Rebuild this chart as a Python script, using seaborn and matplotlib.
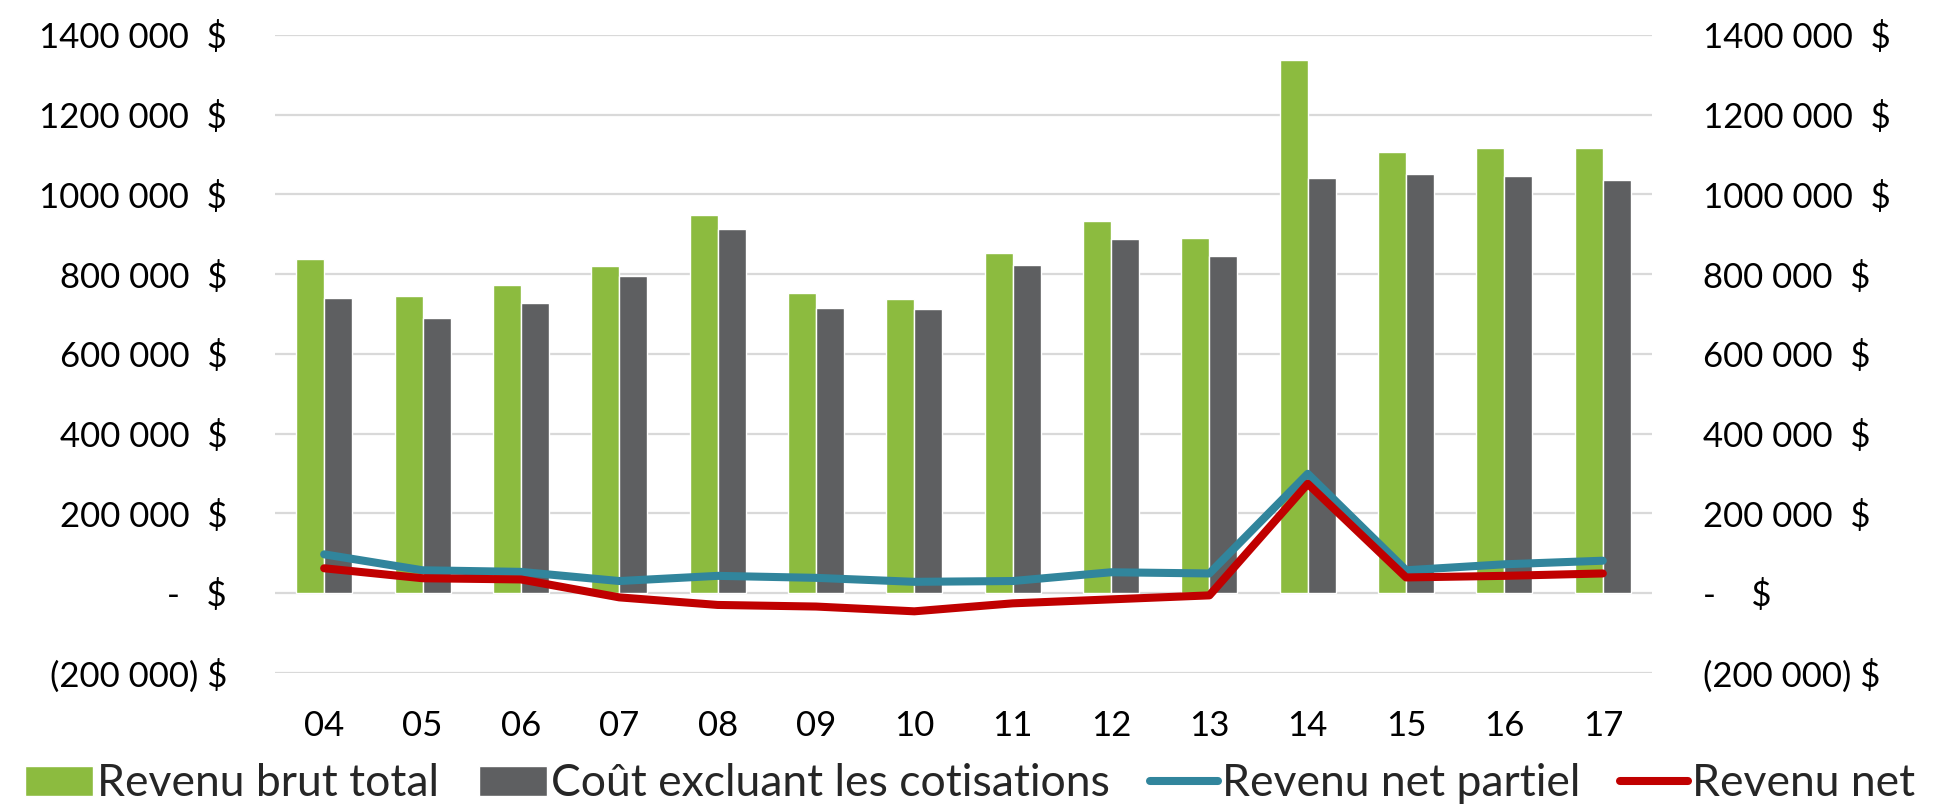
import numpy as np
import pandas as pd
import matplotlib
matplotlib.use("Agg")
import matplotlib.pyplot as plt
import seaborn as sns

# ---------------- data ----------------
annees = ["04", "05", "06", "07", "08", "09", "10", "11", "12", "13", "14", "15", "16", "17"]
revenu_brut_total = [837000, 746000, 774000, 820000, 949000, 753000, 737000,
                     853000, 933000, 891000, 1337000, 1107000, 1116000, 1116000]
cout_excluant_cotisations = [741000, 691000, 728000, 796000, 912000, 716000, 712000,
                             824000, 887000, 845000, 1041000, 1050000, 1045000, 1037000]
revenu_net_partiel = [97000, 57000, 53000, 30000, 43000, 38000, 28000,
                      30000, 52000, 49000, 299000, 57000, 72000, 81000]
revenu_net = [62000, 37000, 34000, -11000, -30000, -34000, -46000,
              -26000, -16000, -6000, 274000, 39000, 43000, 49000]

series_barres = ["Revenu brut total", "Coût excluant les cotisations"]
series_lignes = ["Revenu net partiel", "Revenu net"]

y_ticks = [-200000, 0, 200000, 400000, 600000, 800000, 1000000, 1200000, 1400000]
y_labels_gauche = ["(200 000) $", "-   $", "200 000  $", "400 000  $", "600 000  $",
                   "800 000  $", "1000 000  $", "1200 000  $", "1400 000  $"]
y_labels_droite = ["(200 000) $", "-    $", "200 000  $", "400 000  $", "600 000  $",
                   "800 000  $", "1000 000  $", "1200 000  $", "1400 000  $"]

# ---------------- style ----------------
VERT = "#8CBB3F"
GRIS = "#5E5F61"
SARCELLE = "#31859C"
ROUGE = "#C00000"
GRILLE = "#D9D9D9"

sns.set_theme(style="white")
plt.rcParams["font.family"] = ["Lato", "DejaVu Sans"]
FS = 25
FS_LEG = 32

df = pd.DataFrame({
    "Année": annees * 2,
    "Série": [series_barres[0]] * len(annees) + [series_barres[1]] * len(annees),
    "Montant": revenu_brut_total + cout_excluant_cotisations,
})

W, H = 1934, 808
fig = plt.figure(figsize=(W / 100, H / 100), dpi=100)
ax = fig.add_axes([275 / W, 1 - 672.7 / H, (1652 - 275) / W, (672.7 - 35) / H])

sns.barplot(data=df, x="Année", y="Montant", hue="Série", order=annees,
            hue_order=series_barres, palette=[VERT, GRIS], width=0.57,
            saturation=1, ax=ax, errorbar=None)
handles_b, labels_b = ax.get_legend_handles_labels()
if ax.get_legend() is not None:
    ax.get_legend().remove()

ax.set_ylim(-200000, 1400000)
ax.set_yticks(y_ticks)
ax.set_yticklabels(y_labels_gauche)
ax.set_axisbelow(True)
ax.yaxis.grid(True, color=GRILLE, lw=1.6)
ax.xaxis.grid(False)
ax.set_xlabel("")
ax.set_ylabel("")
ax.tick_params(axis="y", length=0, pad=34.5, labelsize=FS, colors="black")
ax.tick_params(axis="x", length=0, pad=27, labelsize=FS, colors="black")
for s in ax.spines.values():
    s.set_visible(False)

ax2 = ax.twinx()
pos = np.arange(len(annees))
sns.lineplot(x=pos, y=revenu_net_partiel, ax=ax2, color=SARCELLE, lw=5.8,
             label=series_lignes[0], sort=False, solid_joinstyle="round",
             solid_capstyle="round")
sns.lineplot(x=pos, y=revenu_net, ax=ax2, color=ROUGE, lw=5.8,
             label=series_lignes[1], sort=False, solid_joinstyle="round",
             solid_capstyle="round")
handles_l, labels_l = ax2.get_legend_handles_labels()
if ax2.get_legend() is not None:
    ax2.get_legend().remove()

ax2.set_ylim(-200000, 1400000)
ax2.set_yticks(y_ticks)
ax2.set_yticklabels(y_labels_droite)
ax2.grid(False)
ax2.set_ylabel("")
ax2.tick_params(axis="y", length=0, pad=36.7, labelsize=FS, colors="black")
for s in ax2.spines.values():
    s.set_visible(False)
ax.set_xlim(-0.5, len(annees) - 0.5)

fig.legend(handles_b + handles_l, labels_b + labels_l, loc="center",
           bbox_to_anchor=(0.5015, 1 - 784 / H), ncol=4, frameon=False,
           fontsize=FS_LEG, handlelength=1.53, handleheight=0.68,
           handletextpad=0.09, columnspacing=0.9, borderpad=0,
           borderaxespad=0)

fig.savefig("out.png", dpi=100)
